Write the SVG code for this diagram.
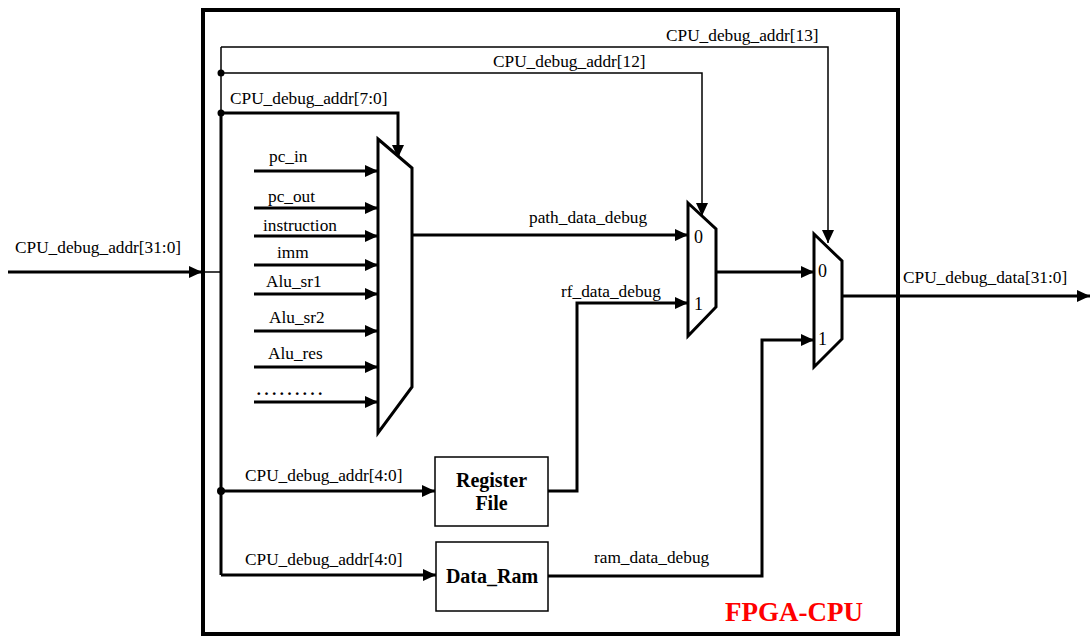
<svg xmlns="http://www.w3.org/2000/svg" width="1091" height="637" viewBox="0 0 1091 637">
<defs>
<marker id="arr" markerUnits="userSpaceOnUse" markerWidth="13" markerHeight="12" refX="13" refY="6" orient="auto">
<path d="M0,0 L13,6 L0,12 z" fill="#000"/>
</marker>
<style>
.t{font-family:"Liberation Serif","Times New Roman",serif;font-size:17.3px;fill:#000}
.b{font-family:"Liberation Serif","Times New Roman",serif;font-size:20px;font-weight:bold;fill:#000}
.d{font-family:"Liberation Serif","Times New Roman",serif;font-size:18px;fill:#000}
.w{fill:none;stroke:#000;stroke-width:3}
.n{fill:none;stroke:#000;stroke-width:1.5}
.a{marker-end:url(#arr)}
.mux{fill:#fff;stroke:#000;stroke-width:3;stroke-linejoin:miter}
.box{fill:#fff;stroke:#000;stroke-width:1.5}
</style>
</defs>
<rect id="frame" x="203" y="10" width="695" height="624" fill="none" stroke="#000" stroke-width="4"/>
<text x="725" y="621" font-family="Liberation Serif, Times New Roman, serif" font-size="27" font-weight="bold" fill="#ff0000">FPGA-CPU</text>

<g id="connectors">
<path class="w a" d="M8,272 H202"/>
<path class="n" d="M203,272 H221"/>
<path class="n" d="M221,47 V113"/>
<path class="w" d="M221,113 V575"/>
<path class="n a" d="M221,47 H828 V243"/>
<path class="n a" d="M221,73 H702 V216"/>
<path class="w a" d="M221,113 H398 V158"/>
<circle cx="221" cy="73" r="3.5"/>
<circle cx="221" cy="113" r="3.5"/>
<circle cx="221" cy="491" r="4"/>
<path class="w a" d="M254,171 H378"/>
<path class="w a" d="M254,208 H378"/>
<path class="w a" d="M254,236 H378"/>
<path class="w a" d="M254,265 H378"/>
<path class="w a" d="M254,294 H378"/>
<path class="w a" d="M254,331 H378"/>
<path class="w a" d="M254,367 H378"/>
<path class="w a" d="M254,402 H378"/>
<path class="w a" d="M412,235 H688"/>
<path class="w a" d="M716,272 H814"/>
<path class="w a" d="M548,491 H577 V303 H688"/>
<path class="w a" d="M548,576 H762 V340 H814"/>
<path class="w a" d="M842,296 H1090"/>
<path class="w a" d="M221,491 H435"/>
<path class="w a" d="M221,575 H436"/>
<text class="t" x="15" y="253">CPU_debug_addr[31:0]</text>
<text class="t" x="666" y="41">CPU_debug_addr[13]</text>
<text class="t" x="493" y="67">CPU_debug_addr[12]</text>
<text class="t" x="230" y="104">CPU_debug_addr[7:0]</text>
<text class="t" x="269" y="162">pc_in</text>
<text class="t" x="268" y="202">pc_out</text>
<text class="t" x="263" y="231">instruction</text>
<text class="t" x="277" y="258">imm</text>
<text class="t" x="266" y="287">Alu_sr1</text>
<text class="t" x="269" y="323">Alu_sr2</text>
<text class="t" x="268" y="359">Alu_res</text>
<text class="t" x="255" y="395" style="font-size:23px">………</text>
<text class="t" x="529" y="223">path_data_debug</text>
<text class="t" x="561" y="297">rf_data_debug</text>
<text class="t" x="594" y="563">ram_data_debug</text>
<text class="t" x="903" y="283">CPU_debug_data[31:0]</text>
<text class="t" x="245" y="481">CPU_debug_addr[4:0]</text>
<text class="t" x="245" y="565">CPU_debug_addr[4:0]</text>
</g>

<g id="mux0">
<path class="mux" d="M378,139 L412,168 L412,387 L378,433 Z"/>
</g>
<g id="mux1">
<path class="mux" d="M688,203 L716,229 L716,307 L688,336 Z"/>
<text class="d" x="694" y="243">0</text>
<text class="d" x="694" y="310">1</text>
</g>
<g id="mux2">
<path class="mux" d="M814,234 L842,261 L842,339 L814,367 Z"/>
<text class="d" x="818" y="277">0</text>
<text class="d" x="818" y="345">1</text>
</g>
<g id="regfile">
<rect class="box" x="435" y="457" width="113" height="69"/>
<text class="b" x="491.5" y="487" text-anchor="middle">Register</text>
<text class="b" x="491.5" y="510" text-anchor="middle">File</text>
</g>
<g id="dataram">
<rect class="box" x="436" y="542" width="112" height="69"/>
<text class="b" x="492" y="583" text-anchor="middle">Data_Ram</text>
</g>
</svg>
